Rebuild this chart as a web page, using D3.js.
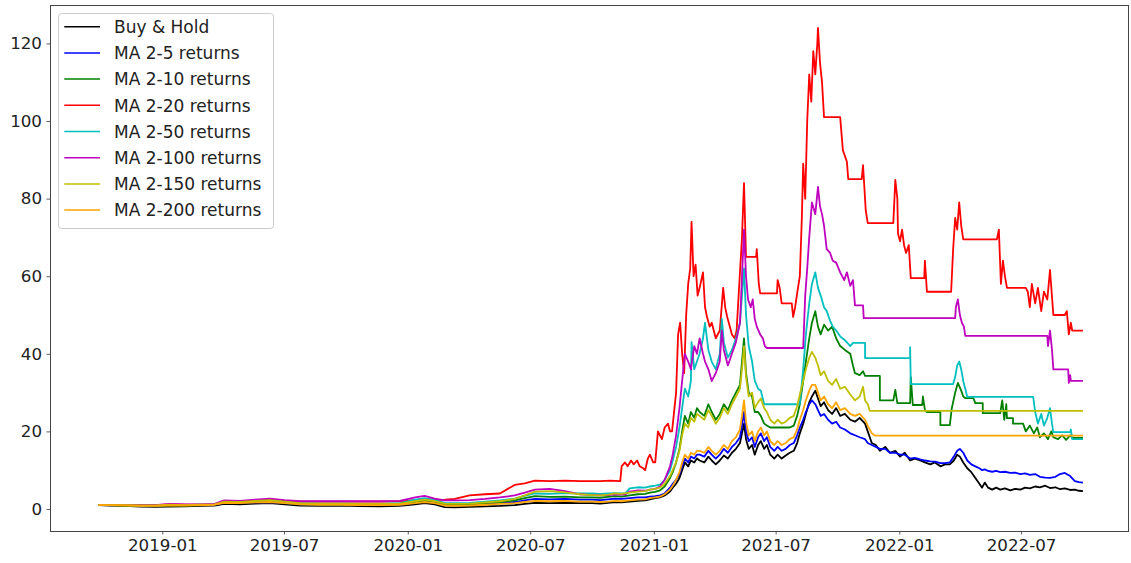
<!DOCTYPE html>
<html>
<head>
<meta charset="utf-8">
<script src="https://cdn.jsdelivr.net/npm/d3@7"></script>
<style>
  body { margin: 0; background: #fff; }
  svg { display: block; }
  text { font-family: "DejaVu Sans", sans-serif; }
</style>
</head>
<body>
<svg id="chart" width="1131" height="563"></svg>
<script>
// Cumulative strategy returns, one point per [day offset from START, value].
const START = new Date(2018, 8, 28);

const seriesNames = ["Buy & Hold", "MA 2-5 returns", "MA 2-10 returns", "MA 2-20 returns",
  "MA 2-50 returns", "MA 2-100 returns", "MA 2-150 returns", "MA 2-200 returns"];
const seriesColors = ["#000000", "#0000ff", "#008000", "#ff0000", "#00bfbf", "#bf00bf", "#bfbf00", "#ffa500"];

const yTicks = [0, 20, 40, 60, 80, 100, 120];
const xTickLabels = ["2019-01", "2019-07", "2020-01", "2020-07", "2021-01", "2021-07", "2022-01", "2022-07"];

// Sparse sampling for the quiet first two years
const earlyDays = [0,17,39,62,84,106,129,151,173,187,210,233,255,277,300,329,359,389,419,448,471,485,500,515,530,552,575,597,619,634,649,671,694,716];

const buyHoldEarly = [1.0,0.9,0.8,0.6,0.55,0.6,0.7,0.8,0.9,1.3,1.2,1.4,1.5,1.2,0.9,0.8,0.85,0.75,0.7,0.8,1.2,1.5,1.2,0.5,0.4,0.55,0.7,0.8,1.0,1.3,1.6,1.5,1.6,1.5];
const ma5Early = [1.0,1.0,1.0,0.9,0.9,1.0,1.0,1.0,1.1,1.6,1.5,1.7,1.8,1.5,1.2,1.1,1.1,1.0,1.0,1.1,1.6,1.9,1.6,1.0,1.0,1.1,1.3,1.5,1.8,2.2,2.6,2.5,2.6,2.4];
const ma10Early = [1.0,1.0,0.9,0.8,0.8,0.9,0.9,1.0,1.1,1.7,1.6,1.8,2.0,1.6,1.2,1.1,1.1,1.0,1.0,1.1,1.8,2.2,1.9,1.2,1.1,1.2,1.5,1.8,2.2,2.8,3.3,3.1,3.2,3.0];
const ma20Early = [1.0,1.0,1.0,1.0,1.0,1.2,1.1,1.1,1.2,2.0,1.9,2.2,2.5,2.1,1.9,1.9,1.9,1.9,1.9,2.0,2.3,2.6,2.3,2.4,2.6,3.5,3.8,4.0,6.2,6.6,7.3,7.2,7.3,7.2];
const ma50Early = [1.0,1.0,1.0,0.9,0.9,1.0,1.0,1.1,1.2,1.9,1.8,2.0,2.2,1.8,1.5,1.4,1.4,1.3,1.3,1.5,2.4,2.8,2.3,1.6,1.5,1.6,1.9,2.2,2.7,3.4,4.0,3.9,4.1,4.0];
const ma100Early = [1.0,1.0,1.0,1.0,1.0,1.3,1.2,1.2,1.3,2.2,2.1,2.4,2.7,2.3,2.0,2.0,2.0,2.0,2.0,2.1,3.0,3.4,2.7,2.2,2.2,2.3,2.6,3.0,3.5,4.2,5.0,5.2,4.6,3.8];
const ma150Early = [1.0,1.0,1.0,0.9,0.9,1.1,1.0,1.1,1.2,1.9,1.8,2.1,2.3,1.9,1.5,1.4,1.4,1.3,1.3,1.4,2.0,2.4,2.0,1.4,1.3,1.4,1.7,2.0,2.6,3.5,4.5,4.6,4.3,3.8];
const ma200Early = [1.0,1.0,0.9,0.8,0.8,0.9,0.9,1.0,1.1,1.6,1.5,1.7,1.8,1.5,1.2,1.1,1.1,1.0,1.0,1.1,1.5,1.8,1.5,0.9,0.8,0.9,1.1,1.3,1.5,1.8,2.1,2.0,2.1,1.9];

// Denser sampling from October 2020 on
const buyHoldLate = [[734,1.5],[746,1.4],[758,1.6],[768,1.8],[778,1.7],[790,1.9],[802,2.1],[813,2.2],[820,2.5],[828,2.8],[835,3.0],[842,3.5],[850,4.5],[854,5.5],[859,6.5],[864,8.0],[868,10.0],[872,12.0],[877,11.0],[881,12.5],[886,12.0],[890,13.0],[894,12.5],[901,12.0],[907,13.5],[912,12.5],[918,11.5],[924,12.5],[930,13.8],[936,13.0],[942,14.5],[948,15.5],[954,17.0],[957,19.5],[960,22.0],[963,18.0],[967,15.5],[972,16.5],[976,14.0],[981,16.5],[985,17.5],[990,15.5],[994,16.5],[999,14.0],[1005,13.0],[1010,14.0],[1016,13.0],[1022,13.8],[1028,14.5],[1034,15.0],[1039,17.0],[1043,19.5],[1048,22.0],[1052,24.5],[1057,27.5],[1061,29.0],[1066,30.5],[1070,28.5],[1074,26.5],[1079,27.5],[1085,25.5],[1091,24.5],[1097,26.0],[1103,24.0],[1110,24.5],[1118,23.0],[1125,22.5],[1132,23.5],[1140,22.0],[1144,20.0],[1150,17.0],[1156,16.5],[1162,15.0],[1170,16.0],[1177,14.5],[1185,15.0],[1192,13.5],[1199,14.5],[1207,12.5],[1214,13.0],[1222,12.5],[1229,12.0],[1237,11.5],[1244,12.0],[1252,11.0],[1259,11.5],[1266,11.5],[1272,12.5],[1277,14.0],[1281,13.5],[1286,12.0],[1292,10.5],[1298,9.5],[1304,8.0],[1310,6.5],[1314,5.5],[1318,6.8],[1323,5.5],[1329,5.0],[1335,5.5],[1341,5.0],[1348,5.3],[1356,4.8],[1363,5.2],[1371,5.0],[1378,5.5],[1385,5.3],[1393,5.8],[1400,5.6],[1408,6.0],[1415,5.4],[1423,5.6],[1430,5.1],[1437,5.3],[1445,4.9],[1452,5.0],[1458,4.7],[1464,4.6]];

const ma5Late = [[734,2.4],[746,2.3],[758,2.5],[768,2.7],[778,2.6],[790,2.8],[802,3.0],[813,3.0],[820,3.2],[828,3.3],[835,3.5],[842,4.0],[850,5.5],[854,6.5],[859,7.5],[864,9.0],[868,11.0],[872,13.0],[877,12.0],[881,13.5],[886,13.0],[890,14.0],[894,14.0],[901,13.5],[907,15.0],[912,14.0],[918,13.0],[924,14.0],[930,15.5],[936,14.5],[942,16.0],[948,17.0],[954,18.5],[957,21.5],[960,25.0],[963,20.0],[967,17.5],[972,18.5],[976,16.0],[981,18.5],[985,19.5],[990,17.5],[994,18.5],[999,16.0],[1005,15.0],[1010,16.0],[1016,15.0],[1022,15.5],[1028,16.5],[1034,17.0],[1039,19.0],[1043,21.0],[1048,23.0],[1052,25.0],[1057,27.0],[1061,28.0],[1066,27.0],[1070,25.5],[1074,24.0],[1079,24.5],[1085,23.0],[1091,22.0],[1097,22.5],[1103,21.0],[1110,20.5],[1118,19.5],[1125,19.0],[1132,18.5],[1140,18.0],[1144,17.0],[1150,16.5],[1156,16.0],[1162,15.5],[1170,15.5],[1177,14.5],[1185,14.5],[1192,14.0],[1199,14.0],[1207,13.0],[1214,13.2],[1222,12.8],[1229,12.5],[1237,12.3],[1244,12.2],[1252,11.8],[1259,11.8],[1266,12.0],[1272,13.5],[1277,15.0],[1281,15.5],[1286,14.5],[1292,12.5],[1298,11.5],[1304,11.0],[1310,10.5],[1314,10.0],[1318,10.2],[1323,9.8],[1329,9.6],[1335,9.8],[1341,9.5],[1348,9.6],[1356,9.3],[1363,9.4],[1371,9.0],[1378,9.2],[1385,8.8],[1393,9.0],[1400,8.3],[1408,8.1],[1415,8.0],[1423,8.3],[1430,9.0],[1437,9.3],[1445,8.5],[1452,7.2],[1458,6.9],[1464,6.8]];

const ma10Late = [[734,3.0],[746,2.9],[758,3.1],[768,3.3],[778,3.2],[790,3.5],[802,3.8],[813,3.9],[820,4.2],[828,4.4],[835,4.8],[842,5.8],[850,8.0],[854,9.5],[859,12.0],[864,15.5],[868,20.0],[872,24.0],[877,22.0],[881,25.0],[886,23.5],[890,26.0],[894,25.0],[901,24.0],[907,27.0],[912,25.0],[918,23.0],[924,24.5],[930,27.0],[936,25.5],[942,28.0],[948,30.0],[954,32.0],[957,38.0],[960,44.0],[963,35.0],[967,30.0],[972,29.0],[976,25.0],[981,25.0],[985,24.0],[990,22.0],[994,21.5],[999,21.0],[1028,21.0],[1034,21.5],[1039,24.0],[1043,27.0],[1048,33.0],[1052,38.0],[1057,44.0],[1061,48.0],[1066,51.0],[1070,47.0],[1074,45.0],[1079,47.5],[1085,46.0],[1091,47.0],[1097,44.0],[1103,42.0],[1110,41.0],[1118,40.0],[1122,37.0],[1125,35.0],[1132,34.5],[1137,35.5],[1140,34.3],[1162,34.3],[1162,28.0],[1182,28.0],[1185,30.7],[1188,27.3],[1207,27.3],[1208,34.0],[1211,26.8],[1225,26.8],[1226,29.0],[1229,25.5],[1232,25.0],[1252,25.0],[1252,21.6],[1266,21.6],[1269,26.0],[1274,30.0],[1278,32.5],[1283,30.5],[1286,29.0],[1289,28.6],[1301,28.6],[1304,27.3],[1315,27.3],[1315,24.7],[1341,24.7],[1344,28.0],[1347,23.0],[1350,27.0],[1351,23.4],[1360,23.4],[1360,22.0],[1375,22.0],[1379,20.0],[1385,21.5],[1391,19.5],[1396,21.0],[1400,18.5],[1406,19.5],[1412,18.0],[1417,20.0],[1420,18.5],[1427,18.0],[1433,19.0],[1439,17.8],[1445,19.0],[1448,18.3],[1464,18.3]];

const ma20Late = [[734,7.2],[746,7.2],[761,7.3],[776,7.2],[778,11.0],[783,12.0],[787,11.0],[792,12.5],[796,11.5],[801,12.5],[805,11.0],[810,10.5],[813,10.0],[817,13.0],[820,14.0],[825,12.0],[828,12.0],[832,20.0],[835,19.0],[838,18.0],[842,21.0],[847,22.0],[850,20.0],[853,20.0],[856,25.0],[859,30.0],[862,45.0],[865,48.0],[868,40.0],[871,35.0],[874,50.0],[877,58.0],[880,62.0],[882,74.0],[885,60.0],[888,63.0],[891,55.0],[894,57.0],[899,61.0],[902,52.0],[905,49.5],[909,47.0],[912,48.0],[918,44.0],[924,46.0],[929,57.0],[932,52.0],[935,49.5],[939,47.0],[942,45.0],[946,44.0],[949,46.0],[954,61.0],[957,70.0],[960,84.0],[963,65.0],[978,65.0],[979,67.0],[982,58.0],[984,55.6],[1009,55.6],[1010,59.0],[1013,57.0],[1016,53.0],[1031,53.0],[1033,49.5],[1036,52.0],[1039,55.6],[1043,60.0],[1046,75.0],[1048,89.0],[1051,80.0],[1054,100.0],[1057,112.0],[1060,105.0],[1063,118.0],[1066,112.0],[1069,120.0],[1070,124.0],[1073,115.0],[1076,110.0],[1079,101.0],[1103,101.0],[1107,92.5],[1113,89.5],[1115,85.0],[1135,85.0],[1137,88.6],[1141,77.0],[1144,73.7],[1182,73.7],[1185,84.8],[1188,80.0],[1189,71.0],[1192,69.0],[1195,72.0],[1198,68.0],[1201,66.0],[1205,68.0],[1208,59.5],[1228,59.5],[1229,64.0],[1232,56.0],[1268,56.0],[1271,67.0],[1274,75.0],[1277,72.0],[1280,79.0],[1283,73.0],[1286,69.5],[1336,69.5],[1339,72.0],[1342,58.0],[1345,64.0],[1348,60.0],[1351,57.0],[1379,57.0],[1382,56.0],[1385,52.0],[1388,58.0],[1393,53.0],[1397,57.0],[1402,51.0],[1406,56.0],[1411,54.0],[1415,61.6],[1420,50.0],[1437,50.0],[1440,51.0],[1443,45.0],[1446,48.0],[1448,46.0],[1464,46.0]];

const ma50Late = [[734,4.0],[746,3.9],[758,4.0],[768,4.1],[778,4.0],[784,4.1],[790,5.3],[802,5.6],[813,5.5],[820,5.8],[828,6.0],[835,6.3],[842,7.5],[850,10.0],[854,12.5],[859,16.0],[864,21.0],[868,26.0],[872,31.0],[877,29.0],[881,33.0],[882,43.0],[886,36.0],[890,38.0],[894,40.0],[899,44.0],[902,48.0],[907,41.0],[912,38.0],[918,36.0],[924,40.0],[927,49.0],[930,43.0],[936,39.0],[942,41.0],[948,44.0],[954,48.0],[957,55.0],[960,62.0],[963,50.0],[967,42.0],[972,38.0],[976,33.0],[981,31.0],[985,30.5],[990,27.0],[1043,27.0],[1048,36.0],[1052,45.0],[1057,53.0],[1061,58.0],[1066,61.0],[1070,57.0],[1074,55.0],[1079,52.0],[1083,51.0],[1088,48.5],[1092,47.0],[1097,46.0],[1103,44.5],[1110,43.5],[1118,42.0],[1122,42.8],[1140,42.8],[1140,38.9],[1207,38.9],[1207,41.7],[1208,32.2],[1271,32.2],[1274,34.0],[1277,37.0],[1280,38.0],[1283,36.0],[1286,33.0],[1289,31.0],[1292,28.9],[1390,28.9],[1393,25.0],[1397,22.0],[1402,24.5],[1406,21.5],[1411,23.5],[1415,26.0],[1418,22.0],[1420,19.8],[1445,19.8],[1446,20.5],[1448,18.0],[1464,18.0]];

const ma100Late = [[734,3.6],[746,3.5],[758,3.6],[768,3.8],[778,3.7],[784,3.8],[790,4.5],[802,4.8],[813,4.7],[820,5.0],[828,5.2],[835,5.8],[842,7.5],[850,11.0],[854,14.0],[859,19.0],[864,26.0],[868,33.0],[872,40.0],[877,38.0],[881,36.0],[886,42.0],[890,40.0],[894,44.0],[899,40.0],[902,38.0],[907,36.0],[912,33.0],[918,35.0],[924,38.0],[927,46.0],[930,41.0],[936,37.0],[942,40.0],[948,43.0],[954,48.0],[957,60.0],[960,72.0],[963,60.0],[966,54.0],[970,52.0],[973,54.0],[976,49.0],[979,47.0],[984,45.0],[988,44.0],[991,42.0],[994,41.5],[1048,41.5],[1051,55.0],[1054,62.0],[1057,70.0],[1061,79.0],[1066,76.0],[1070,83.0],[1073,78.0],[1076,76.0],[1079,73.0],[1083,67.0],[1088,66.0],[1092,64.0],[1097,63.5],[1103,61.0],[1109,59.0],[1113,61.0],[1118,57.5],[1122,59.0],[1125,52.5],[1137,52.5],[1138,49.2],[1274,49.2],[1275,52.0],[1278,54.0],[1281,50.0],[1284,48.0],[1287,47.0],[1289,44.6],[1411,44.6],[1412,42.0],[1415,46.0],[1418,41.0],[1420,36.0],[1442,36.0],[1443,32.5],[1445,34.5],[1446,33.0],[1464,33.0]];

const ma150Late = [[734,3.6],[746,3.5],[758,3.7],[768,4.0],[778,3.9],[790,4.2],[802,4.5],[813,4.6],[820,5.0],[828,5.2],[835,5.5],[842,6.5],[850,8.5],[854,10.0],[859,12.0],[864,15.0],[868,19.0],[872,22.0],[877,21.0],[881,23.5],[886,22.5],[890,24.5],[894,24.0],[901,23.0],[907,25.5],[912,24.0],[918,22.0],[924,23.5],[930,26.0],[936,24.5],[942,27.0],[948,29.0],[954,31.0],[957,36.0],[960,42.0],[963,34.0],[967,29.0],[972,30.0],[976,26.0],[981,27.5],[985,28.5],[990,26.0],[994,25.0],[999,23.0],[1005,22.0],[1010,23.0],[1016,22.0],[1022,22.5],[1028,23.5],[1034,24.0],[1039,26.5],[1043,29.5],[1048,33.0],[1052,36.0],[1057,39.0],[1061,40.5],[1066,39.0],[1070,37.0],[1074,34.5],[1079,35.5],[1085,33.0],[1091,32.0],[1097,33.5],[1103,31.0],[1110,31.5],[1118,29.5],[1125,28.0],[1132,29.0],[1137,31.5],[1140,28.0],[1144,27.0],[1147,25.3],[1464,25.3]];

const ma200Late = [[734,1.9],[746,1.8],[758,1.9],[768,2.1],[778,2.0],[790,2.2],[802,2.4],[813,2.5],[820,2.8],[828,3.0],[835,3.2],[842,3.8],[850,5.0],[854,6.0],[859,7.5],[864,9.5],[868,12.0],[872,14.0],[877,13.0],[881,14.5],[886,14.0],[890,15.0],[894,15.0],[901,14.5],[907,16.0],[912,15.0],[918,14.0],[924,15.0],[930,16.5],[936,15.5],[942,17.5],[948,18.5],[954,20.5],[957,24.0],[960,28.0],[963,22.5],[967,19.0],[972,20.0],[976,17.5],[981,20.0],[985,21.0],[990,19.0],[994,20.0],[999,17.5],[1005,16.5],[1010,17.5],[1016,16.5],[1022,17.0],[1028,18.0],[1034,18.5],[1039,20.5],[1043,23.0],[1048,25.5],[1052,28.0],[1057,30.5],[1061,32.0],[1066,32.0],[1070,30.0],[1074,28.0],[1079,29.0],[1085,27.0],[1091,26.0],[1097,27.5],[1103,25.5],[1110,26.0],[1118,24.5],[1125,24.0],[1132,24.5],[1140,23.0],[1144,21.5],[1150,19.5],[1155,18.9],[1464,18.9]];

const earlyValues = [buyHoldEarly, ma5Early, ma10Early, ma20Early, ma50Early, ma100Early, ma150Early, ma200Early];
const lateValues = [buyHoldLate, ma5Late, ma10Late, ma20Late, ma50Late, ma100Late, ma150Late, ma200Late];

const series = seriesNames.map((name, i) => ({
  name,
  color: seriesColors[i],
  points: earlyDays.map((d, j) => [d, earlyValues[i][j]]).concat(lateValues[i])
    .map(([d, v]) => ({ date: d3.timeDay.offset(START, d), value: v }))
}));

// ---- layout ----
const plot = { left: 50, right: 1128, top: 5, bottom: 531 };
const svg = d3.select("#chart");

const x = d3.scaleTime()
  .domain([new Date(2018, 6, 18), new Date(2022, 11, 7)])
  .range([plot.left, plot.right]);
const y = d3.scaleLinear()
  .domain([-5.67, 129.9])
  .range([plot.bottom, plot.top]);

svg.append("defs").append("clipPath").attr("id", "plotClip")
  .append("rect")
  .attr("x", plot.left).attr("y", plot.top)
  .attr("width", plot.right - plot.left).attr("height", plot.bottom - plot.top);

// ---- lines ----
const line = d3.line().x(d => x(d.date)).y(d => y(d.value));
svg.append("g").attr("clip-path", "url(#plotClip)")
  .selectAll("path").data(series).join("path")
  .attr("d", d => line(d.points))
  .attr("fill", "none")
  .attr("stroke", d => d.color)
  .attr("stroke-width", 1.8)
  .attr("stroke-linejoin", "round");

// ---- axes ----
const xTickDates = xTickLabels.map(s => d3.timeParse("%Y-%m")(s));
const xAxis = d3.axisBottom(x)
  .tickValues(xTickDates)
  .tickFormat(d3.timeFormat("%Y-%m"))
  .tickSize(3.5).tickPadding(4.5);
const gx = svg.append("g").attr("transform", `translate(0,${plot.bottom})`).call(xAxis);
gx.select(".domain").remove();
gx.selectAll(".tick line").attr("stroke", "#333").attr("stroke-width", 0.8);
gx.selectAll(".tick text").attr("font-size", 16.7).attr("fill", "#222")
  .attr("font-family", "DejaVu Sans, sans-serif");

const yAxis = d3.axisLeft(y).tickValues(yTicks).tickSize(3.5).tickPadding(4.5);
const gy = svg.append("g").attr("transform", `translate(${plot.left},0)`).call(yAxis);
gy.select(".domain").remove();
gy.selectAll(".tick line").attr("stroke", "#333").attr("stroke-width", 0.8);
gy.selectAll(".tick text").attr("font-size", 16.7).attr("fill", "#222")
  .attr("font-family", "DejaVu Sans, sans-serif");

// frame
svg.append("rect")
  .attr("x", plot.left).attr("y", plot.top)
  .attr("width", plot.right - plot.left).attr("height", plot.bottom - plot.top)
  .attr("fill", "none").attr("stroke", "#444").attr("stroke-width", 1)
  .attr("shape-rendering", "crispEdges");

// ---- legend ----
const lg = svg.append("g");
lg.append("rect")
  .attr("x", 58.5).attr("y", 13.5).attr("width", 215).attr("height", 215)
  .attr("rx", 3).attr("ry", 3)
  .attr("fill", "#fff").attr("fill-opacity", 0.8)
  .attr("stroke", "#cccccc").attr("stroke-width", 1);
const rowStep = 26.2;
const items = lg.selectAll("g.item").data(series).join("g")
  .attr("class", "item")
  .attr("transform", (d, i) => `translate(0,${26.7 + i * rowStep})`);
items.append("line")
  .attr("x1", 64.3).attr("x2", 100).attr("y1", 0).attr("y2", 0)
  .attr("stroke", d => d.color).attr("stroke-width", 1.5);
items.append("text")
  .attr("x", 114).attr("y", 6.2)
  .attr("font-size", 17).attr("fill", "#222")
  .text(d => d.name);
</script>
</body>
</html>
